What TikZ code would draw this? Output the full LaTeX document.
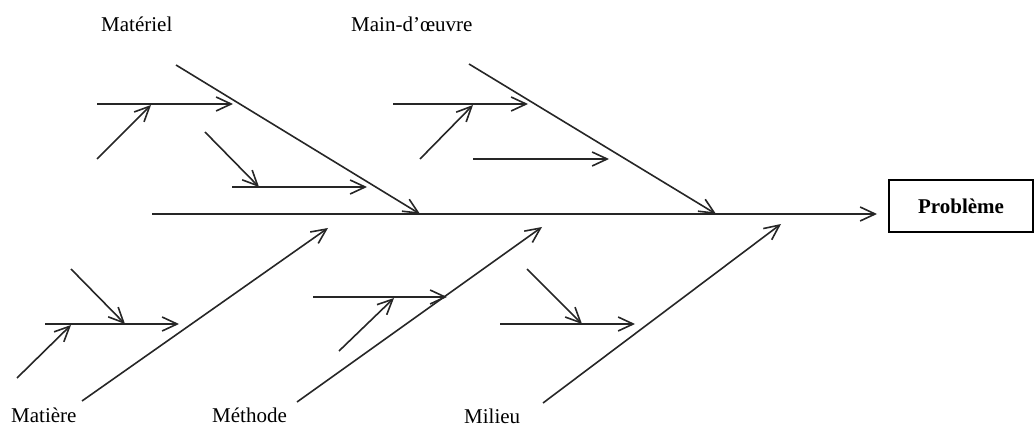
\documentclass[tikz,border=0pt]{standalone}
\usepackage{fontspec}
\setmainfont{Liberation Serif}
\usetikzlibrary{arrows.meta}
\begin{document}
\begin{tikzpicture}[x=1pt,y=-1pt,
  line/.style={line width=1.6pt,draw=black!85},
  arr/.style={line,-{Straight Barb[length=15pt,width=14pt,line width=1.6pt]}},
  lbl/.style={inner sep=0pt,anchor=base west,font=\fontsize{21}{25}\selectfont},
  probbox/.style={draw,line width=1.8pt,minimum width=144pt,minimum height=52pt,inner sep=0pt,font=\fontsize{21}{25}\selectfont\bfseries}]
\useasboundingbox (0,0) rectangle (1035,427);
% labels
\node[lbl] (lmat) at (101,32) {Matériel};
\node[lbl] (lmo) at (351,32) {Main-d’œuvre};
\node[lbl] (lmatiere) at (11,422) {Matière};
\node[lbl] (lmeth) at (212,422) {Méthode};
\node[lbl] (lmil) at (464,423) {Milieu};
\node[probbox] (prob) at (961,206) {Problème};
% spine
\coordinate (s0) at (152,214);
\coordinate (s1) at (877,214);
\draw[arr] (s0) -- (s1);
% Materiel branch
\coordinate (a0) at (176,65);
\coordinate (a1) at (420,214);
\draw[arr] (a0) -- (a1);
\coordinate (a2) at (97,104);
\coordinate (a3) at (233,104);
\coordinate (a4) at (97,159);
\coordinate (a5) at (151,105);
\draw[arr] (a2) -- (a3);
\draw[arr] (a4) -- (a5);
\coordinate (a6) at (232,187);
\coordinate (a7) at (367,187);
\coordinate (a8) at (205,132);
\coordinate (a9) at (259,187);
\draw[arr] (a6) -- (a7);
\draw[arr] (a8) -- (a9);
% Main-d'oeuvre branch
\coordinate (b0) at (469,64);
\coordinate (b1) at (716,214);
\draw[arr] (b0) -- (b1);
\coordinate (b2) at (393,104);
\coordinate (b3) at (528,104);
\coordinate (b4) at (420,159);
\coordinate (b5) at (473,105);
\draw[arr] (b2) -- (b3);
\draw[arr] (b4) -- (b5);
\coordinate (b6) at (473,159);
\coordinate (b7) at (609,159);
\draw[arr] (b6) -- (b7);
% Matiere branch
\coordinate (c0) at (82,401);
\coordinate (c1) at (328,228);
\draw[arr] (c0) -- (c1);
\coordinate (c2) at (45,324);
\coordinate (c3) at (179,324);
\coordinate (c4) at (17,378);
\coordinate (c5) at (71,325);
\coordinate (c6) at (71,269);
\coordinate (c7) at (125,324);
\draw[arr] (c2) -- (c3);
\draw[arr] (c4) -- (c5);
\draw[arr] (c6) -- (c7);
% Methode branch
\coordinate (d0) at (297,402);
\coordinate (d1) at (542,227);
\draw[arr] (d0) -- (d1);
\coordinate (d2) at (313,297);
\coordinate (d3) at (447,297);
\coordinate (d4) at (339,351);
\coordinate (d5) at (394,298);
\draw[arr] (d2) -- (d3);
\draw[arr] (d4) -- (d5);
% Milieu branch
\coordinate (e0) at (543,403);
\coordinate (e1) at (781,224);
\draw[arr] (e0) -- (e1);
\coordinate (e2) at (500,324);
\coordinate (e3) at (635,324);
\coordinate (e4) at (527,269);
\coordinate (e5) at (582,324);
\draw[arr] (e2) -- (e3);
\draw[arr] (e4) -- (e5);
\end{tikzpicture}
\end{document}
